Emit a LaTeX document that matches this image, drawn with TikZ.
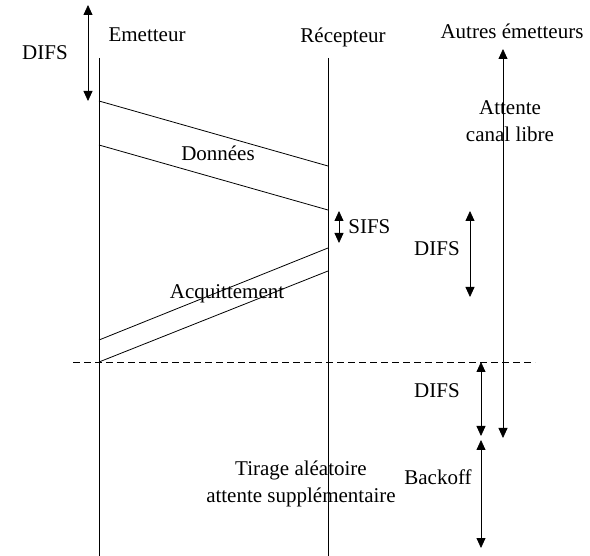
\documentclass[tikz,border=0pt]{standalone}
\usepackage{fontspec}
\setmainfont{Liberation Serif}
\usetikzlibrary{arrows.meta}

\begin{document}
\begin{tikzpicture}[ x = 1pt, y = -1pt, line width = 0.8pt,
        lbl/.style = { font = \fontsize{21}{27}\selectfont, inner sep = 0pt, align = center },
        dur/.style = { {Triangle[width = 9pt, length = 10pt]}-{Triangle[width = 9pt, length = 10pt]} } ]
    \useasboundingbox (0,0) rectangle (590,556);
    % titres des colonnes
    \node (nEmetteur) [ lbl ] at (147,35) {Emetteur};
    \node (nRecepteur) [ lbl ] at (343,37) {Récepteur};
    \node (nAutres) [ lbl ] at (512,31) {Autres émetteurs};
    % lignes de temps
    \coordinate (cEmTop) at (99,58);
    \coordinate (cEmBot) at (99,556);
    \coordinate (cReTop) at (328,58);
    \coordinate (cReBot) at (328,556);
    \draw (cEmTop) -- (cEmBot);
    \draw (cReTop) -- (cReBot);
    % DIFS avant emission
    \coordinate (cDifsATop) at (88,5);
    \coordinate (cDifsABot) at (88,101);
    \draw [ dur ] (cDifsATop) -- (cDifsABot);
    \node (nDifsA) [ lbl ] at (45,53) {DIFS};
    % trame de donnees
    \coordinate (cDonA) at (99,101);
    \coordinate (cDonB) at (328,166);
    \coordinate (cDonC) at (99,145);
    \coordinate (cDonD) at (328,210);
    \draw (cDonA) -- (cDonB);
    \draw (cDonC) -- (cDonD);
    \node (nDonnees) [ lbl ] at (218,153) {Données};
    % SIFS
    \coordinate (cSifsTop) at (339,211);
    \coordinate (cSifsBot) at (339,243);
    \draw [ dur ] (cSifsTop) -- (cSifsBot);
    \node (nSifs) [ lbl, right = 0pt ] at (348,227) {SIFS};
    % acquittement
    \coordinate (cAckA) at (328,248);
    \coordinate (cAckB) at (99,340);
    \coordinate (cAckC) at (328,271);
    \coordinate (cAckD) at (99,362);
    \draw (cAckA) -- (cAckB);
    \draw (cAckC) -- (cAckD);
    \node (nAcquittement) [ lbl ] at (227,294) {Acquittement};
    % autres emetteurs
    \coordinate (cAttTop) at (503,49);
    \coordinate (cAttBot) at (503,438);
    \draw [ dur ] (cAttTop) -- (cAttBot);
    \node (nAttente) [ lbl ] at (510,121) {Attente\\canal libre};
    \coordinate (cDifsBTop) at (470,211);
    \coordinate (cDifsBBot) at (470,297);
    \draw [ dur ] (cDifsBTop) -- (cDifsBBot);
    \node (nDifsB) [ lbl ] at (437,249) {DIFS};
    % fin de l'acquittement
    \coordinate (cFinA) at (73,362);
    \coordinate (cFinB) at (535,362);
    \draw [ dashed, line width = 0.6pt, dash pattern = on 7pt off 4pt ] (cFinA) -- (cFinB);
    \coordinate (cDifsCTop) at (481,362);
    \coordinate (cDifsCBot) at (481,436);
    \draw [ dur ] (cDifsCTop) -- (cDifsCBot);
    \node (nDifsC) [ lbl ] at (437,391) {DIFS};
    \coordinate (cBackTop) at (481,440);
    \coordinate (cBackBot) at (481,548);
    \draw [ dur ] (cBackTop) -- (cBackBot);
    \node (nBackoff) [ lbl ] at (438,477) {Backoff};
    \node (nTirage) [ lbl ] at (301,484) {Tirage aléatoire\\attente supplémentaire};
\end{tikzpicture}
\end{document}
